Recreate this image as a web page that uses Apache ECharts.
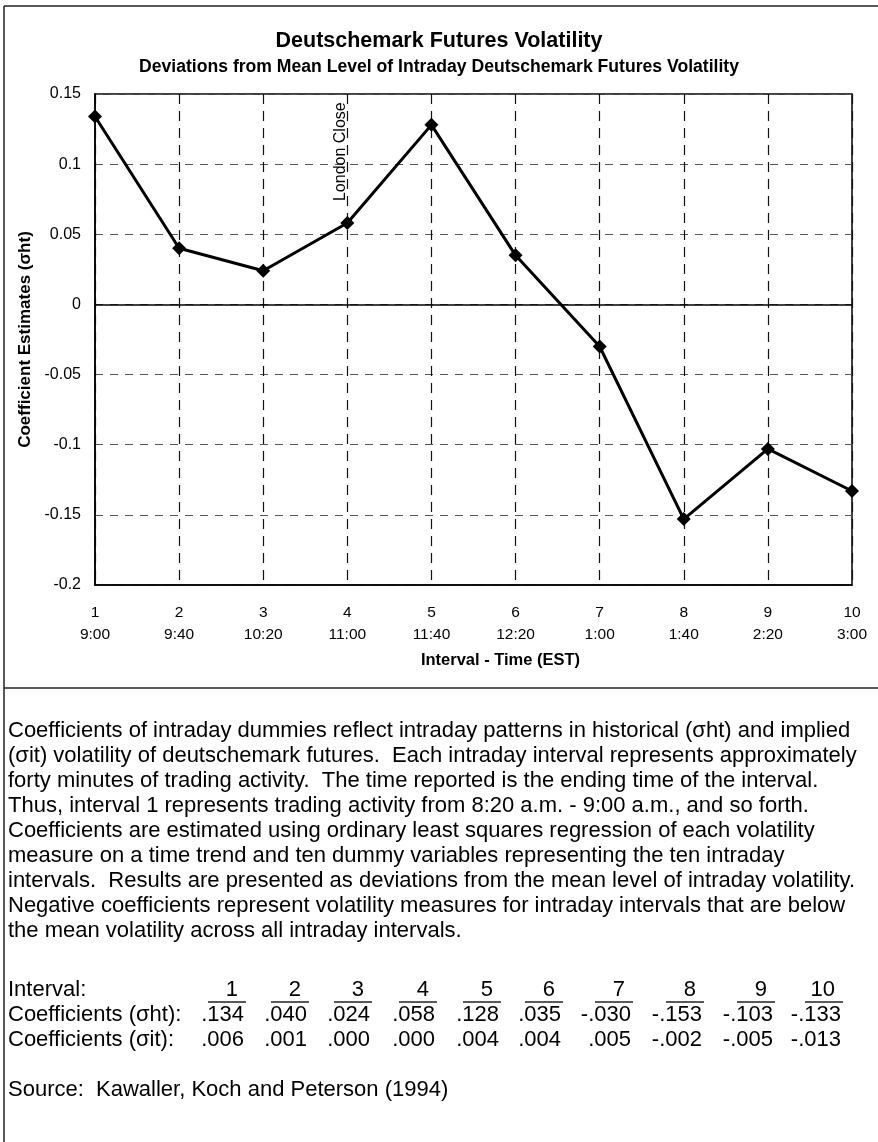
<!DOCTYPE html>
<html>
<head>
<meta charset="utf-8">
<script src="https://cdn.jsdelivr.net/npm/echarts@6/dist/echarts.min.js"></script>
<style>
  html, body { margin: 0; padding: 0; background: #fff; }
  #chart { width: 878px; height: 1142px; }
</style>
</head>
<body>
<div id="chart"></div>
<script>
const intervals = ["1", "2", "3", "4", "5", "6", "7", "8", "9", "10"];
const times = ["9:00", "9:40", "10:20", "11:00", "11:40", "12:20", "1:00", "1:40", "2:20", "3:00"];
const sigmaHt = [0.134, 0.040, 0.024, 0.058, 0.128, 0.035, -0.030, -0.153, -0.103, -0.133];
const sigmaIt = [0.006, 0.001, 0.000, 0.000, 0.004, 0.004, 0.005, -0.002, -0.005, -0.013];
const yMin = -0.2;
const yMax = 0.15;
const yStep = 0.05;
const londonCloseIndex = 3;

const noteLines = [
  "Coefficients of intraday dummies reflect intraday patterns in historical (\u03c3ht) and implied",
  "(\u03c3it) volatility of deutschemark futures.  Each intraday interval represents approximately",
  "forty minutes of trading activity.  The time reported is the ending time of the interval.",
  "Thus, interval 1 represents trading activity from 8:20 a.m. - 9:00 a.m., and so forth.",
  "Coefficients are estimated using ordinary least squares regression of each volatility",
  "measure on a time trend and ten dummy variables representing the ten intraday",
  "intervals.  Results are presented as deviations from the mean level of intraday volatility.",
  "Negative coefficients represent volatility measures for intraday intervals that are below",
  "the mean volatility across all intraday intervals."
];
const sourceLine = "Source:  Kawaller, Koch and Peterson (1994)";

// layout of the text block under the chart
const FONT = "'Liberation Sans', Arial, sans-serif";
const TEXT_SIZE = 22;
const noteTop = 731;
const noteStep = 25;
const tableTop = 990;
const tableStep = 25;
const sourceY = 1090;
const columnRight = [244, 307, 370, 435, 499, 561, 631, 702, 773, 841];

function fmtCoef(v) {
  const s = Math.abs(v).toFixed(3).replace(/^0/, "");
  return (v < 0 ? "-" : "") + s;
}

function textEl(text, x, y, opts) {
  return {
    type: "text",
    x: x,
    y: y,
    silent: true,
    style: Object.assign({
      text: text,
      fill: "#000",
      fontFamily: FONT,
      fontSize: TEXT_SIZE,
      textAlign: "left",
      textVerticalAlign: "middle"
    }, opts || {})
  };
}

function lineEl(x1, y1, x2, y2, w) {
  return {
    type: "line",
    silent: true,
    shape: { x1: x1, y1: y1, x2: x2, y2: y2 },
    style: { stroke: "#222", lineWidth: w || 1.5 }
  };
}

function buildGraphics() {
  const els = [];
  // frame
  els.push(lineEl(4, 6, 878, 6));
  els.push(lineEl(4, 6, 4, 1142));
  els.push(lineEl(4, 688, 878, 688));

  noteLines.forEach((line, i) => {
    els.push(textEl(line, 8, noteTop + i * noteStep));
  });

  const rows = [
    ["Interval:", intervals],
    ["Coefficients (\u03c3ht):", sigmaHt.map(fmtCoef)],
    ["Coefficients (\u03c3it):", sigmaIt.map(fmtCoef)]
  ];
  rows.forEach((row, r) => {
    const y = tableTop + r * tableStep;
    els.push(textEl(row[0], 8, y));
    row[1].forEach((cell, c) => {
      const right = r === 0 ? columnRight[c] - 6 : columnRight[c];
      els.push(textEl(cell, right, y, { textAlign: "right" }));
      if (r === 0) {
        els.push(lineEl(columnRight[c] - 36, y + 12, columnRight[c] + 2, y + 12, 1.5));
      }
    });
  });

  els.push(textEl(sourceLine, 8, sourceY));
  return els;
}

const chart = echarts.init(document.getElementById("chart"), null, { renderer: "canvas" });

chart.setOption({
  animation: false,
  backgroundColor: "#fff",
  title: {
    text: "Deutschemark Futures Volatility",
    subtext: "Deviations from Mean Level of Intraday Deutschemark Futures Volatility",
    left: "center",
    top: 25,
    padding: [5, 5, 5, 13],
    itemGap: 6,
    textStyle: { fontFamily: FONT, fontSize: 21.5, fontWeight: "bold", color: "#000" },
    subtextStyle: { fontFamily: FONT, fontSize: 17.6, fontWeight: "bold", color: "#000" }
  },
  grid: {
    left: 95,
    right: 26,
    top: 94,
    bottom: 557,
    show: true,
    borderColor: "#000",
    borderWidth: 1.5,
    containLabel: false,
    outerBoundsMode: "none"
  },
  xAxis: {
    type: "category",
    data: intervals.map((n, i) => n + "\n" + times[i]),
    boundaryGap: false,
    axisLine: { show: true, onZero: false, lineStyle: { color: "#000", width: 1.5 } },
    axisTick: { show: false },
    axisLabel: { interval: 0, color: "#000", fontFamily: FONT, fontSize: 15.5, lineHeight: 22, margin: 17 },
    splitLine: { show: true, lineStyle: { type: [10, 7], color: "#111", width: 1.2 } },
    name: "Interval - Time (EST)",
    nameLocation: "middle",
    nameGap: 67,
    nameTextStyle: { fontFamily: FONT, fontSize: 16.5, fontWeight: "bold", color: "#000", padding: [0, 0, 0, 54] }
  },
  yAxis: {
    type: "value",
    min: yMin,
    max: yMax,
    interval: yStep,
    axisLine: { show: true, lineStyle: { color: "#000", width: 1.5 } },
    axisTick: { show: false },
    axisLabel: { color: "#000", fontFamily: FONT, fontSize: 16, margin: 14 },
    splitLine: { show: true, lineStyle: { type: [8, 7], color: "#555", width: 1.2 } },
    name: "Coefficient Estimates (\u03c3ht)",
    nameLocation: "middle",
    nameRotate: 90,
    nameGap: 54,
    nameTextStyle: { fontFamily: FONT, fontSize: 17, fontWeight: "bold", color: "#000" }
  },
  series: [{
    type: "line",
    data: sigmaHt,
    symbol: "diamond",
    symbolSize: 14,
    showAllSymbol: true,
    itemStyle: { color: "#000" },
    lineStyle: { color: "#000", width: 3 },
    z: 5,
    markLine: {
      silent: true,
      symbol: "none",
      label: { show: false },
      lineStyle: { type: "solid", color: "#000", width: 1.5 },
      data: [{ yAxis: 0 }]
    }
  }],
  graphic: buildGraphics()
});

// "London Close" note, anchored just above interval 4's point
const anchor = chart.convertToPixel({ seriesIndex: 0 }, [londonCloseIndex, sigmaHt[londonCloseIndex]]);
const graphics = buildGraphics();
graphics.push({
  type: "text",
  x: anchor[0] - 7,
  y: anchor[1] - 22,
  rotation: Math.PI / 2,
  silent: true,
  style: {
    text: "London Close",
    fill: "#000",
    fontFamily: FONT,
    fontSize: 16,
    textAlign: "left",
    textVerticalAlign: "middle"
  }
});
chart.setOption({ graphic: graphics }, { replaceMerge: ["graphic"] });
</script>
</body>
</html>
